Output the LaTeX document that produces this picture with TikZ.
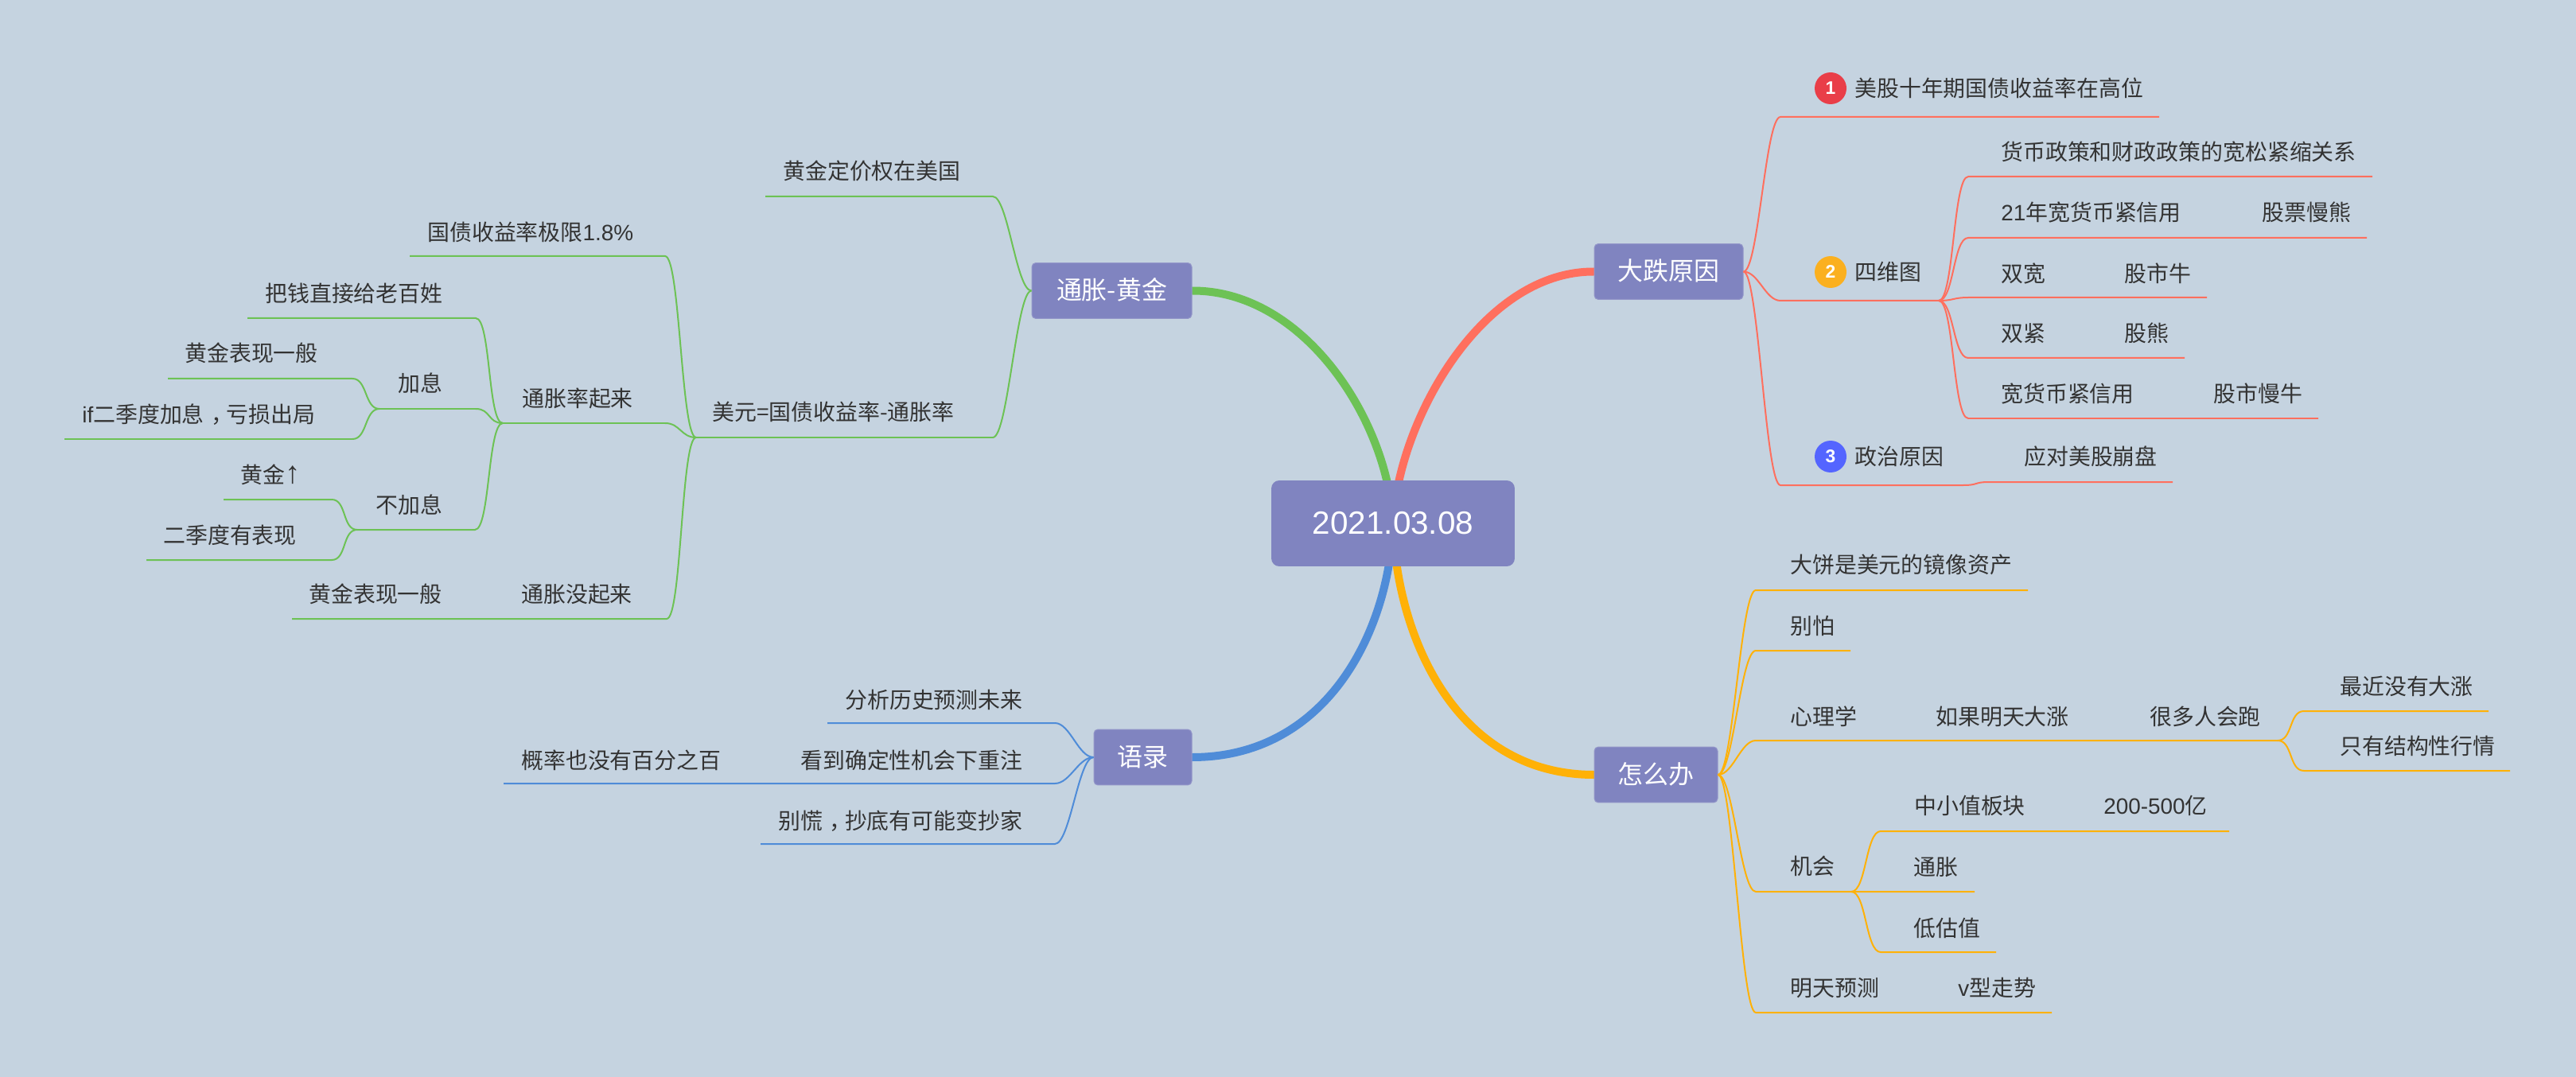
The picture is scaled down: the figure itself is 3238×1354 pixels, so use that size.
\documentclass[tikz,border=0pt]{standalone}
\usepackage{fontspec}
\setmainfont{Noto Sans CJK SC}
\newfontfamily\lat{Liberation Sans}
\usetikzlibrary{backgrounds}
\definecolor{bgcol}{HTML}{C5D3E0}
\definecolor{boxcol}{HTML}{8084C0}
\definecolor{txtcol}{HTML}{333333}
\definecolor{redcol}{HTML}{FF6F5E}
\definecolor{greencol}{HTML}{6DC255}
\definecolor{bluecol}{HTML}{4F8CD8}
\definecolor{yellowcol}{HTML}{FFB107}
\definecolor{badgeone}{HTML}{E93E48}
\definecolor{badgetwo}{HTML}{FBB01F}
\definecolor{badgethree}{HTML}{5465FF}
\tikzset{
  rootbox/.style={fill=boxcol,rounded corners=0.2cm,minimum width=6.12cm,minimum height=2.16cm,text=white,font=\lat\fontsize{23}{27}\selectfont},
  mainbox/.style={fill=boxcol,draw=boxcol!85!white,line width=0.02cm,rounded corners=0.1cm,minimum height=1.4cm,inner sep=0pt,text=white,text height=1.3em,text depth=0em,font=\fontsize{18.2}{22}\selectfont},
  topic/.style={anchor=west,inner sep=0pt,yshift=-0.08cm,text=txtcol,text height=0.88em,text depth=0.12em,font=\fontsize{15.88}{19}\selectfont},
  badge/.style={circle,minimum size=0.8cm,inner sep=0pt,text=white,font=\lat\bfseries\fontsize{13}{15}\selectfont},
  thick branch/.style={line width=0.2cm,line cap=round},
  redline/.style={draw=redcol,line width=0.04cm},
  greenline/.style={draw=greencol,line width=0.04cm},
  blueline/.style={draw=bluecol,line width=0.04cm},
  yellowline/.style={draw=yellowcol,line width=0.04cm},
  linkr/.style={out=0,in=180,distance=0.38cm},
  linkl/.style={out=180,in=0,distance=0.38cm}
}
\begin{document}
\begin{tikzpicture}[x=0.02cm,y=-0.02cm]
  \useasboundingbox (0,0) rectangle (3238,1354);

  \node[rootbox] (root) at (1751,658) {2021.03.08};
  \node[mainbox,minimum width=3.74cm] (fall) at (2097.5,341.5) {大跌原因};
  \node[mainbox,minimum width=3.1cm] (todo) at (2081.5,974) {怎么办};
  \node[mainbox,minimum width=4.02cm] (gold) at (1397.5,365.5) {通胀-黄金};
  \node[mainbox,minimum width=2.46cm] (quote) at (1436.5,952) {语录};

  % 大跌原因
  \coordinate (r1a) at (2238,147); \coordinate (r1b) at (2714,147);
  \coordinate (r2a) at (2238,378); \coordinate (r2b) at (2437,378);
  \coordinate (r3a) at (2238,610); \coordinate (r3b) at (2468,610);
  \coordinate (r3c) at (2500,606); \coordinate (r3d) at (2731,606);
  \coordinate (r4a) at (2474,222); \coordinate (r4b) at (2982,222);
  \coordinate (r5a) at (2474,299); \coordinate (r5b) at (2975,299);
  \coordinate (r6a) at (2474,374); \coordinate (r6b) at (2774,374);
  \coordinate (r7a) at (2474,450); \coordinate (r7b) at (2746,450);
  \coordinate (r8a) at (2474,526); \coordinate (r8b) at (2914,526);
  \node[badge,fill=badgeone] (one) at (2301,111) {1};
  \node[badge,fill=badgetwo] (two) at (2301,342) {2};
  \node[badge,fill=badgethree] (three) at (2301,574) {3};
  \node[topic] (r1) at (2331,111) {美股十年期国债收益率在高位};
  \node[topic] (r2) at (2331,342) {四维图};
  \node[topic] (r3) at (2331,574) {政治原因};
  \node[topic] (r3t) at (2544,574) {应对美股崩盘};
  \node[topic] (r4) at (2515,191) {货币政策和财政政策的宽松紧缩关系};
  \node[topic] (r5) at (2515,267) {{\lat 21}年宽货币紧信用};
  \node[topic] (r5t) at (2843,267) {股票慢熊};
  \node[topic] (r6) at (2515,344) {双宽};
  \node[topic] (r6t) at (2670,344) {股市牛};
  \node[topic] (r7) at (2515,419) {双紧};
  \node[topic] (r7t) at (2670,419) {股熊};
  \node[topic] (r8) at (2515,495) {宽货币紧信用};
  \node[topic] (r8t) at (2782,495) {股市慢牛};

  % 怎么办
  \coordinate (y1a) at (2207,742); \coordinate (y1b) at (2549,742);
  \coordinate (y2a) at (2207,818); \coordinate (y2b) at (2326,818);
  \coordinate (y3a) at (2207,931); \coordinate (y3b) at (2863,931);
  \coordinate (y4a) at (2207,1121); \coordinate (y4b) at (2327,1121);
  \coordinate (y5a) at (2207,1273); \coordinate (y5b) at (2579,1273);
  \coordinate (y6a) at (2896,894); \coordinate (y6b) at (3128,894);
  \coordinate (y7a) at (2896,969); \coordinate (y7b) at (3155,969);
  \coordinate (y8a) at (2364,1045); \coordinate (y8b) at (2802,1045);
  \coordinate (y9b) at (2482,1121);
  \coordinate (y10a) at (2364,1197); \coordinate (y10b) at (2509,1197);
  \node[topic] (y1) at (2250,710) {大饼是美元的镜像资产};
  \node[topic] (y2) at (2250,787) {别怕};
  \node[topic] (y3) at (2250,901) {心理学};
  \node[topic] (y3t) at (2433,901) {如果明天大涨};
  \node[topic] (y3u) at (2702,901) {很多人会跑};
  \node[topic] (y6) at (2941,863) {最近没有大涨};
  \node[topic] (y7) at (2941,938) {只有结构性行情};
  \node[topic] (y4) at (2250,1089) {机会};
  \node[topic] (y8) at (2406,1013) {中小值板块};
  \node[topic] (y8t) at (2644,1013) {\lat 200-500{\rmfamily 亿}};
  \node[topic] (y9) at (2405,1090) {通胀};
  \node[topic] (y10) at (2405,1167) {低估值};
  \node[topic] (y5) at (2250,1242) {明天预测};
  \node[topic] (y5t) at (2461,1242) {{\lat v}型走势};

  % 通胀-黄金
  \coordinate (g1a) at (1248,247); \coordinate (g1b) at (962,247);
  \coordinate (g2a) at (1248,550); \coordinate (g2b) at (875,550);
  \coordinate (g3a) at (836,322); \coordinate (g3b) at (515,322);
  \coordinate (g4a) at (836,532); \coordinate (g4b) at (632,532);
  \coordinate (g5a) at (838,778); \coordinate (g5b) at (367,778);
  \coordinate (g6a) at (598,400); \coordinate (g6b) at (311,400);
  \coordinate (g7a) at (598,514); \coordinate (g7b) at (477,514);
  \coordinate (g8a) at (597,666); \coordinate (g8b) at (449,666);
  \coordinate (g9a) at (443,476); \coordinate (g9b) at (211,476);
  \coordinate (g10a) at (443,552); \coordinate (g10b) at (81,552);
  \coordinate (g11a) at (417,628); \coordinate (g11b) at (281,628);
  \coordinate (g12a) at (417,704); \coordinate (g12b) at (184,704);
  \node[topic] (g1) at (984,215) {黄金定价权在美国};
  \node[topic] (g2) at (895,518) {美元={\rmfamily 国债收益率}-通胀率};
  \node[topic] (g3) at (537,292) {国债收益率极限{\lat 1.8\%}};
  \node[topic] (g4) at (656,501) {通胀率起来};
  \node[topic] (g5) at (655,747) {通胀没起来};
  \node[topic] (g5t) at (388,747) {黄金表现一般};
  \node[topic] (g6) at (333,369) {把钱直接给老百姓};
  \node[topic] (g7) at (500,482) {加息};
  \node[topic] (g8) at (472,635) {不加息};
  \node[topic] (g9) at (232,444) {黄金表现一般};
  \node[topic] (g10) at (103,521) {{\lat if}二季度加息\hspace{.3em}，\hspace{-.3em}亏损出局};
  \node[topic] (g11) at (302,597) {黄金{\lat\fontsize{22}{22}\selectfont ↑}};
  \node[topic] (g12) at (205,673) {二季度有表现};

  % 语录
  \coordinate (b1a) at (1326,909); \coordinate (b1b) at (1040,909);
  \coordinate (b2a) at (1326,985); \coordinate (b2b) at (633,985);
  \coordinate (b3a) at (1326,1061); \coordinate (b3b) at (956,1061);
  \node[topic] (b1) at (1062,880) {分析历史预测未来};
  \node[topic] (b2) at (1006,956) {看到确定性机会下重注};
  \node[topic] (b2t) at (655,956) {概率也没有百分之百};
  \node[topic] (b3) at (978,1032) {别慌\hspace{.3em}，\hspace{-.3em}抄底有可能变抄家};

  \begin{pgfonlayer}{background}
    \fill[bgcol] (0,0) rectangle (3238,1354);
    \draw[thick branch,greencol] (root.center) .. controls (1745,530) and (1640,365) .. (gold.east);
    \draw[thick branch,redcol] (root.center) .. controls (1757,530) and (1862,341) .. (fall.west);
    \draw[thick branch,bluecol] (root.center) .. controls (1747,790) and (1670,952) .. (quote.east);
    \draw[thick branch,yellowcol] (root.center) .. controls (1755,800) and (1830,974) .. (todo.west);
  \end{pgfonlayer}

  \draw[redline] (fall.east) to[linkr] (r1a) -- (r1b);
  \draw[redline] (fall.east) to[linkr] (r2a) -- (r2b);
  \draw[redline] (fall.east) to[linkr] (r3a) -- (r3b) to[linkr] (r3c) -- (r3d);
  \draw[redline] (r2b) to[linkr] (r4a) -- (r4b);
  \draw[redline] (r2b) to[linkr] (r5a) -- (r5b);
  \draw[redline] (r2b) to[linkr] (r6a) -- (r6b);
  \draw[redline] (r2b) to[linkr] (r7a) -- (r7b);
  \draw[redline] (r2b) to[linkr] (r8a) -- (r8b);

  \draw[yellowline] (todo.east) to[linkr] (y1a) -- (y1b);
  \draw[yellowline] (todo.east) to[linkr] (y2a) -- (y2b);
  \draw[yellowline] (todo.east) to[linkr] (y3a) -- (y3b);
  \draw[yellowline] (todo.east) to[linkr] (y4a) -- (y4b) -- (y9b);
  \draw[yellowline] (todo.east) to[linkr] (y5a) -- (y5b);
  \draw[yellowline] (y3b) to[linkr] (y6a) -- (y6b);
  \draw[yellowline] (y3b) to[linkr] (y7a) -- (y7b);
  \draw[yellowline] (y4b) to[linkr] (y8a) -- (y8b);
  \draw[yellowline] (y4b) to[linkr] (y10a) -- (y10b);

  \draw[greenline] (gold.west) to[linkl] (g1a) -- (g1b);
  \draw[greenline] (gold.west) to[linkl] (g2a) -- (g2b);
  \draw[greenline] (g2b) to[linkl] (g3a) -- (g3b);
  \draw[greenline] (g2b) to[linkl] (g4a) -- (g4b);
  \draw[greenline] (g2b) to[linkl] (g5a) -- (g5b);
  \draw[greenline] (g4b) to[linkl] (g6a) -- (g6b);
  \draw[greenline] (g4b) to[linkl] (g7a) -- (g7b);
  \draw[greenline] (g4b) to[linkl] (g8a) -- (g8b);
  \draw[greenline] (g7b) to[linkl] (g9a) -- (g9b);
  \draw[greenline] (g7b) to[linkl] (g10a) -- (g10b);
  \draw[greenline] (g8b) to[linkl] (g11a) -- (g11b);
  \draw[greenline] (g8b) to[linkl] (g12a) -- (g12b);

  \draw[blueline] (quote.west) to[linkl] (b1a) -- (b1b);
  \draw[blueline] (quote.west) to[linkl] (b2a) -- (b2b);
  \draw[blueline] (quote.west) to[linkl] (b3a) -- (b3b);
\end{tikzpicture}
\end{document}
